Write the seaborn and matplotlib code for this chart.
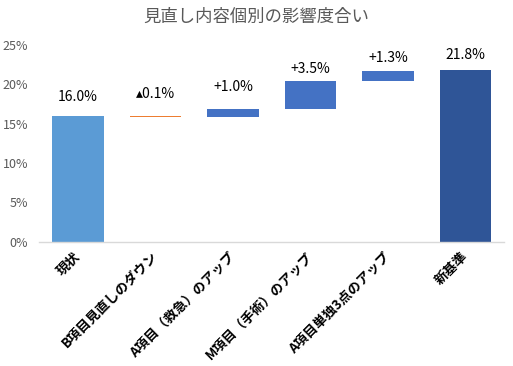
import numpy as np
import pandas as pd
import matplotlib
matplotlib.use("Agg")
import matplotlib.pyplot as plt
import seaborn as sns

# ---- data ----
categories = ["現状", "B項目見直しのダウン", "A項目（救急）のアップ",
              "M項目（手術）のアップ", "A項目単独3点のアップ", "新基準"]
start_value = 16.0
deltas = [-0.1, 1.0, 3.5, 1.3]
final_value = 21.8
y_ticks = [0, 5, 10, 15, 20, 25]
title = "見直し内容個別の影響度合い"

# ---- derived waterfall geometry ----
cum = start_value + np.cumsum([0] + deltas)          # running totals
bottoms = [0.0]
heights = [start_value]
for i, d in enumerate(deltas):
    lo = min(cum[i], cum[i + 1])
    bottoms.append(lo)
    heights.append(abs(d))
bottoms.append(0.0)
heights.append(final_value)

labels = [f"{start_value:.1f}%"]
for d in deltas:
    labels.append(("\u25B4" if d < 0 else "+") + f"{abs(d):.1f}%")
labels.append(f"{final_value:.1f}%")
tops = [b + h for b, h in zip(bottoms, heights)]

colors = ["#5B9BD5"] + [("#ED7D31" if d < 0 else "#4472C4") for d in deltas] + ["#2F5597"]
label_offsets = [8.7, 10.7, 10.8, 3.8, 4.3, 6]  # points above bar top

df = pd.DataFrame({"cat": categories, "h": heights})

sns.set_theme(style="white")
plt.rcParams["font.family"] = ["Noto Sans CJK JP", "DejaVu Sans"]

fig = plt.figure(figsize=(5.13, 3.66), dpi=100)
ax = fig.add_axes([0.0765, 0.3396, 0.9065, 0.5374])

sns.barplot(data=df, x="cat", y="h", order=categories, bottom=bottoms,
            color="#4472C4", saturation=1, width=0.67, linewidth=0,
            errorbar=None, ax=ax)
for p, c in zip(ax.patches, colors):
    p.set_facecolor(c)

for i, (t, lab) in enumerate(zip(tops, labels)):
    ax.annotate(lab, (i, t), xytext=(0, label_offsets[i]), textcoords="offset points",
                ha="center", va="bottom", fontsize=10, color="black",
                family=["Noto Sans CJK JP", "DejaVu Sans"])

ax.set_ylim(0, 25)
ax.set_xlim(-0.5, len(categories) - 0.5)
ax.set_yticks(y_ticks)
ax.set_yticklabels([f"{v}%" for v in y_ticks], color="#595959", fontsize=9)
ax.set_xticks(range(len(categories)))
ax.set_xticklabels(categories, rotation=45, ha="right", va="center",
                   rotation_mode="anchor", fontsize=9.6, fontweight="bold", color="black")
ax.tick_params(axis="x", pad=9, length=0)
ax.tick_params(axis="y", pad=8, length=0)
ax.set_xlabel("")
ax.set_ylabel("")
for s in ["top", "right", "left"]:
    ax.spines[s].set_visible(False)
ax.spines["bottom"].set_color("#D9D9D9")
ax.spines["bottom"].set_linewidth(1)

fig.text(0.5, 0.953, title, ha="center", va="center", fontsize=12.5, color="#595959")

fig.savefig("out.png", dpi=100, facecolor="white")
